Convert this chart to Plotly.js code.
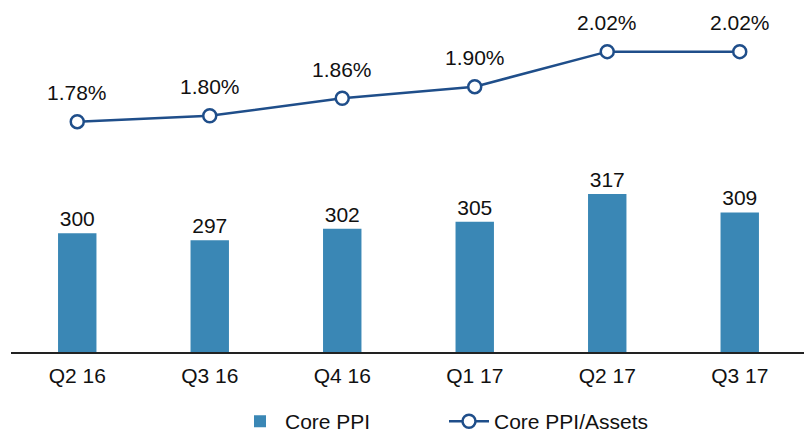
<!DOCTYPE html>
<html>
<head>
<meta charset="utf-8">
<script src="https://cdn.plot.ly/plotly-3.0.1.min.js"></script>
<style>html,body{margin:0;padding:0;background:#fff;}#chart{width:804px;height:432px;}</style>
</head>
<body>
<div id="chart"></div>
<script>
const categories = ["Q2 16", "Q3 16", "Q4 16", "Q1 17", "Q2 17", "Q3 17"];
const corePPI = [300, 297, 302, 305, 317, 309];
const corePPIAssets = [1.78, 1.80, 1.86, 1.90, 2.02, 2.02];
const corePPIAssetsLabels = ["1.78%", "1.80%", "1.86%", "1.90%", "2.02%", "2.02%"];

const FONT = "Liberation Sans, Arial, sans-serif";
const FS = 21;
const barColor = "#3a87b5";
const lineColor = "#1f4e8a";

const traces = [
  {
    type: "bar",
    name: "Core PPI",
    x: categories,
    y: corePPI,
    marker: {color: barColor},
    text: corePPI.map(String),
    textposition: "outside",
    constraintext: "none",
    cliponaxis: false,
    textfont: {family: FONT, size: FS, color: "#111"},
    hoverinfo: "x+y"
  },
  {
    type: "scatter",
    mode: "lines+markers",
    name: "Core PPI/Assets",
    x: categories,
    y: corePPIAssets,
    yaxis: "y2",
    line: {color: lineColor, width: 2.5},
    marker: {symbol: "circle", size: 13, color: "#ffffff", line: {color: lineColor, width: 2.5}},
    cliponaxis: false
  }
];

const annotations = categories.map((c, i) => ({
  x: c, y: corePPIAssets[i], xref: "x", yref: "y2",
  text: corePPIAssetsLabels[i], showarrow: false,
  yanchor: "middle", yshift: 29,
  font: {family: FONT, size: FS, color: "#111"}
}));

const layout = {
  width: 804, height: 432,
  margin: {l: 11, r: 0, t: 0, b: 80, autoexpand: false},
  paper_bgcolor: "#ffffff", plot_bgcolor: "#ffffff",
  font: {family: FONT, size: FS, color: "#111"},
  bargap: 0.71,
  showlegend: true,
  legend: {orientation: "h", x: 235 / 804, xanchor: "left", xref: "container",
           y: 0.024, yanchor: "middle", yref: "container",
           entrywidth: 154, entrywidthmode: "pixels",
           font: {family: FONT, size: FS, color: "#111"}, traceorder: "normal", itemwidth: 40},
  xaxis: {type: "category", range: [-0.5, 5.485], showline: true, linecolor: "#222", linewidth: 1.5,
          automargin: false, ticklabelstandoff: 4,
          showgrid: false, zeroline: false, ticks: "", tickfont: {family: FONT, size: FS, color: "#111"}},
  yaxis: {range: [248.6, 401], visible: false, showgrid: false, zeroline: false, automargin: false},
  yaxis2: {range: [0.9905, 2.197], overlaying: "y", side: "right", visible: false, showgrid: false, zeroline: false, automargin: false},
  annotations: annotations
};

Plotly.newPlot("chart", traces, layout, {displayModeBar: false, staticPlot: true});
</script>
</body>
</html>
